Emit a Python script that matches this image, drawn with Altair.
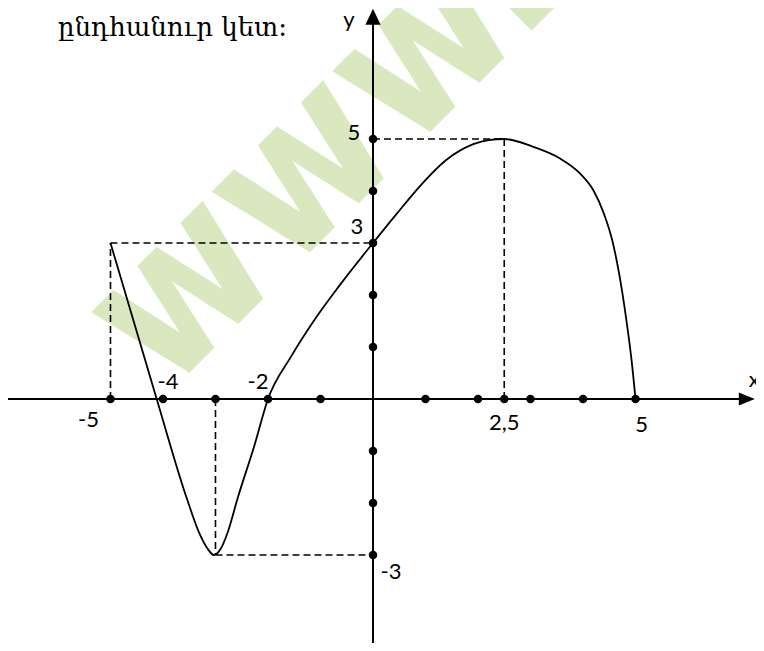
import altair as alt
import pandas as pd

# ---------------- data ----------------
curve_x = [-5.0, -4.12, -3.55, -3.3, -3.15, -3.03, -2.9, -2.78, -2.57, -2.26, -2.0,
           -1.57, -1.11, -0.64, 0.0, 0.45, 0.9, 1.4, 1.91, 2.2, 2.5,
           3.05, 3.57, 3.95, 4.2, 4.4, 4.56, 4.69, 4.82, 4.92, 5.0]
curve_y = [3.0, 0.0, -1.9, -2.6, -2.88, -3.0, -2.88, -2.6, -1.88, -0.9, 0.0,
           0.8, 1.53, 2.18, 3.0, 3.56, 4.1, 4.6, 4.9, 4.98, 5.0,
           4.85, 4.62, 4.33, 4.01, 3.56, 3.04, 2.4, 1.56, 0.79, 0.0]

x_dots = [-5, -4, -3, -2, -1, 1, 2, 2.5, 3, 4, 5]
y_dots = [-3, -2, -1, 1, 2, 3, 4, 5]

dash_x1 = [-5, -5, 0, 2.5, -3, -3]
dash_y1 = [0, 3, 5, 5, 0, -3]
dash_x2 = [-5, 0, 2.5, 2.5, -3, 0]
dash_y2 = [3, 3, 5, 0, -3, -3]

x_labels = ["-5", "-4", "-2", "2,5", "5"]
x_label_at = [-5, -4, -2, 2.5, 5]
y_labels = ["-3", "3", "5"]
y_label_at = [-3, 3, 5]

title_text = "ընդհանուր կետ:"
watermark_text = "www.e"

x_domain = [-6.952, 7.295]
y_domain = [-4.692, 7.519]
x_axis_start, x_axis_end = -7.2, 7.12
y_axis_start, y_axis_end = -5.0, 7.35

# ---------------- styles ----------------
label_font = "Lato"
label_size = 22
x_label_offsets = [(-22, 21), (5, -17), (-10, -17), (0, 24), (6, 26)]
y_label_offsets = [(18, 17), (-16, -16), (-19, -6)]

xs = alt.Scale(domain=x_domain, nice=False, zero=False)
ys = alt.Scale(domain=y_domain, nice=False, zero=False)


def X(field="x"):
    return alt.X(f"{field}:Q", scale=xs, axis=None)


def Y(field="y"):
    return alt.Y(f"{field}:Q", scale=ys, axis=None)


layers = []

# watermark (decorative)
wm = alt.Chart(pd.DataFrame({"t": [watermark_text]})).mark_text(
    angle=315, font="DejaVu Sans Condensed", fontWeight="bold", fontSize=205,
    fill="#d9e8bf", align="left", baseline="alphabetic"
).encode(x=alt.value(158), y=alt.value(388), text="t:N")
layers.append(wm)

# title text
layers.append(
    alt.Chart(pd.DataFrame({"t": [title_text]})).mark_text(
        font="DejaVu Serif", fontSize=26, color="black",
        align="left", baseline="middle"
    ).encode(x=alt.value(50), y=alt.value(20), text="t:N")
)

# dashed guides
dash_df = pd.DataFrame({"x": dash_x1, "y": dash_y1, "x2": dash_x2, "y2": dash_y2})
layers.append(
    alt.Chart(dash_df).mark_rule(color="black", strokeWidth=1.6, strokeDash=[7, 4]).encode(
        x=X(), y=Y(), x2="x2:Q", y2="y2:Q")
)

# axes
layers.append(
    alt.Chart(pd.DataFrame({"x": [x_axis_start], "x2": [x_axis_end], "y": [0]}))
    .mark_rule(color="black", strokeWidth=2).encode(x=X(), x2="x2:Q", y=Y())
)
layers.append(
    alt.Chart(pd.DataFrame({"x": [0], "y": [y_axis_start], "y2": [y_axis_end]}))
    .mark_rule(color="black", strokeWidth=2).encode(x=X(), y=Y(), y2="y2:Q")
)
layers.append(
    alt.Chart(pd.DataFrame({"x": [x_axis_end], "y": [0]}))
    .mark_point(shape="M-1,-0.8L1,0L-1,0.8Z", filled=True, size=256, color="black", opacity=1)
    .encode(x=X(), y=Y())
)
layers.append(
    alt.Chart(pd.DataFrame({"x": [0], "y": [y_axis_end]}))
    .mark_point(shape="M-0.95,1L0,-1L0.95,1Z", filled=True, size=256, color="black", opacity=1)
    .encode(x=X(), y=Y())
)

# curve
layers.append(
    alt.Chart(pd.DataFrame({"x": curve_x, "y": curve_y}))
    .mark_line(color="black", strokeWidth=1.8, interpolate="monotone")
    .encode(x=X(), y=Y(), order=alt.Order("x:Q"))
)

# dots
dots_df = pd.DataFrame({
    "x": x_dots + [0] * len(y_dots),
    "y": [0] * len(x_dots) + y_dots,
})
layers.append(
    alt.Chart(dots_df).mark_circle(color="black", size=72, opacity=1).encode(x=X(), y=Y())
)

# tick labels
for txt, at, (dx, dy) in zip(x_labels, x_label_at, x_label_offsets):
    layers.append(
        alt.Chart(pd.DataFrame({"x": [at], "y": [0], "t": [txt]}))
        .mark_text(font=label_font, fontSize=label_size, color="black",
                   align="center", baseline="middle", dx=dx, dy=dy)
        .encode(x=X(), y=Y(), text="t:N")
    )
for txt, at, (dx, dy) in zip(y_labels, y_label_at, y_label_offsets):
    layers.append(
        alt.Chart(pd.DataFrame({"x": [0], "y": [at], "t": [txt]}))
        .mark_text(font=label_font, fontSize=label_size, color="black",
                   align="center", baseline="middle", dx=dx, dy=dy)
        .encode(x=X(), y=Y(), text="t:N")
    )

# axis names
layers.append(
    alt.Chart(pd.DataFrame({"x": [0], "y": [y_axis_end], "t": ["y"]}))
    .mark_text(font=label_font, fontSize=label_size, color="black",
               align="center", baseline="middle", dx=-24, dy=3)
    .encode(x=X(), y=Y(), text="t:N")
)
layers.append(
    alt.Chart(pd.DataFrame({"x": [x_axis_end], "y": [0], "t": ["x"]}))
    .mark_text(font=label_font, fontSize=label_size, color="black",
               align="left", baseline="middle", dx=2, dy=-19)
    .encode(x=X(), y=Y(), text="t:N")
)

chart = alt.layer(*layers).properties(
    width=748,
    height=635,
    autosize=alt.AutoSizeParams(type="none"),
    padding=0,
).configure_view(strokeWidth=0)

chart.save("out.html", embed_options={"renderer": "svg", "actions": False})
